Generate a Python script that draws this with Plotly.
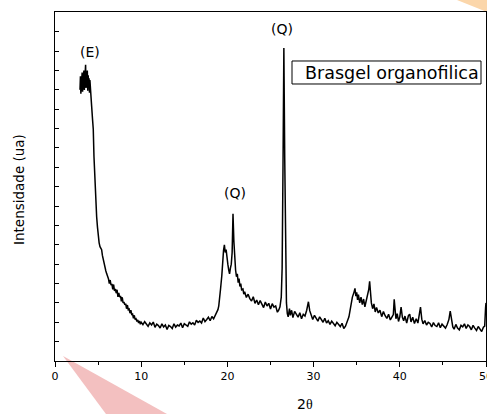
import plotly.graph_objects as go

# XRD pattern - Brasgel organofilica
two_theta = [2.90, 2.95, 3.00, 3.05, 3.10, 3.15, 3.20, 3.25, 3.30, 3.35,
             3.40, 3.45, 3.50, 3.55, 3.60, 3.65, 3.70, 3.75, 3.80, 3.85,
             3.90, 3.95, 4.00, 4.05, 4.10, 4.15, 4.20, 4.25, 4.35, 4.44,
             4.52, 4.63, 4.73, 4.83, 4.93, 5.02, 5.12, 5.22, 5.31, 5.41,
             5.5, 5.6, 5.7, 5.79, 5.9, 6.0, 6.1, 6.2, 6.3, 6.4,
             6.5, 6.6, 6.7, 6.8, 6.9, 7.0, 7.1, 7.2, 7.3, 7.4,
             7.5, 7.6, 7.7, 7.8, 7.9, 8.0, 8.1, 8.2, 8.3, 8.4,
             8.5, 8.6, 8.7, 8.8, 8.9, 9.0, 9.1, 9.2, 9.3, 9.4,
             9.5, 9.6, 9.7, 9.8, 9.9, 10.0, 10.2, 10.4, 10.6, 10.8,
             11.0, 11.2, 11.4, 11.6, 11.8, 12.0, 12.2, 12.4, 12.6, 12.8,
             13.0, 13.2, 13.4, 13.6, 13.8, 14.0, 14.2, 14.4, 14.6, 14.8,
             15.0, 15.2, 15.4, 15.6, 15.8, 16.0, 16.2, 16.4, 16.6, 16.8,
             17.0, 17.2, 17.4, 17.6, 17.8, 18.0, 18.2, 18.4, 18.6, 18.8,
             18.9, 19.0, 19.1, 19.2, 19.35, 19.45, 19.55, 19.65, 19.75, 19.85,
             19.95, 20.05, 20.15, 20.25, 20.35, 20.45, 20.55, 20.65, 20.75, 20.85,
             20.95, 21.05, 21.15, 21.25, 21.35, 21.45, 21.55, 21.65, 21.8, 21.9,
             22.0, 22.2, 22.4, 22.6, 22.8, 23.0, 23.2, 23.4, 23.6, 23.8,
             24.0, 24.2, 24.4, 24.6, 24.8, 25.0, 25.2, 25.4, 25.6, 25.8,
             25.95, 26.1, 26.25, 26.35, 26.45, 26.55, 26.65, 26.75, 26.85, 26.95,
             27.05, 27.2, 27.3, 27.45, 27.6, 27.8, 28.0, 28.2, 28.4, 28.6,
             28.8, 29.0, 29.2, 29.4, 29.55, 29.7, 29.9, 30.1, 30.3, 30.5,
             30.7, 30.9, 31.1, 31.3, 31.5, 31.7, 31.9, 32.1, 32.3, 32.5,
             32.7, 32.9, 33.1, 33.3, 33.5, 33.7, 33.9, 34.1, 34.3, 34.5,
             34.7, 34.8, 34.9, 35.0, 35.1, 35.2, 35.35, 35.5, 35.65, 35.8,
             35.95, 36.1, 36.25, 36.4, 36.5, 36.6, 36.7, 36.85, 37.0, 37.15,
             37.3, 37.5, 37.7, 37.9, 38.1, 38.3, 38.5, 38.7, 38.9, 39.1,
             39.25, 39.35, 39.45, 39.55, 39.7, 39.85, 40.0, 40.15, 40.3, 40.45,
             40.6, 40.8, 41.0, 41.15, 41.3, 41.5, 41.7, 41.9, 42.1, 42.25,
             42.4, 42.55, 42.7, 42.9, 43.1, 43.3, 43.5, 43.7, 43.9, 44.1,
             44.3, 44.5, 44.7, 44.9, 45.1, 45.3, 45.5, 45.7, 45.85, 46.0,
             46.15, 46.3, 46.5, 46.7, 46.9, 47.1, 47.3, 47.5, 47.7, 47.9,
             48.1, 48.3, 48.5, 48.7, 48.9, 49.1, 49.3, 49.5, 49.7, 49.85,
             49.95, 50.0]
intensidade = [1400, 1470, 1380, 1450, 1410, 1490, 1390, 1460, 1420, 1500,
               1400, 1480, 1430, 1530, 1410, 1470, 1440, 1500, 1395, 1475,
               1420, 1460, 1385, 1450, 1400, 1420, 1360, 1316, 1250, 1197,
               1057, 922, 830, 746, 690, 642, 610, 590, 580, 575,
               545, 520, 500, 487, 465, 450, 440, 425, 400, 418,
               392, 398, 370, 395, 362, 372, 350, 368, 331, 352,
               330, 336, 308, 329, 300, 305, 290, 296, 270, 289,
               265, 268, 247, 262, 240, 242, 220, 236, 214, 218,
               204, 212, 196, 207, 190, 200, 188, 203, 191, 179,
               197, 186, 201, 174, 190, 183, 170, 192, 176, 186,
               163, 184, 178, 168, 192, 175, 186, 181, 196, 172,
               193, 188, 179, 202, 190, 197, 186, 210, 199, 206,
               196, 222, 203, 214, 226, 208, 230, 218, 238, 250,
               265, 285, 316, 370, 440, 540, 570, 600, 560, 575,
               520, 500, 470, 450, 480, 500, 560, 760, 620, 500,
               470, 435, 450, 405, 425, 385, 400, 368, 372, 345,
               358, 328, 345, 322, 310, 332, 298, 315, 290, 312,
               294, 276, 305, 284, 298, 268, 296, 278, 284, 252,
               262, 280, 330, 480, 1000, 1616, 1050, 480, 300, 245,
               228, 270, 236, 262, 224, 256, 238, 226, 249, 218,
               241, 232, 262, 306, 260, 235, 214, 236, 222, 206,
               228, 212, 200, 221, 196, 208, 189, 206, 194, 182,
               200, 186, 178, 195, 168, 180, 200, 228, 280, 330,
               357, 375, 335, 355, 315, 343, 300, 330, 291, 320,
               280, 310, 330, 370, 412, 340, 300, 270, 295, 253,
               277, 248, 262, 229, 255, 234, 220, 241, 212, 228,
               240, 318, 260, 218, 244, 204, 228, 278, 226, 208,
               232, 196, 234, 242, 202, 226, 194, 218, 196, 230,
               278, 216, 192, 209, 186, 200, 194, 176, 198, 183,
               178, 197, 172, 190, 181, 170, 188, 215, 258, 206,
               176, 164, 189, 170, 161, 184, 176, 192, 168, 186,
               178, 161, 184, 170, 158, 178, 163, 152, 174, 180,
               275, 300]

x_ticks = [0, 10, 20, 30, 40, 50]
x_minor_ticks = [5, 15, 25, 35, 45]
peak_labels = ['(E)', '(Q)', '(Q)']
peak_x = [4.06, 20.86, 26.36]
peak_y = [1596, 870, 1715]

fig = go.Figure(data=[
    go.Scatter(x=two_theta, y=intensidade, mode='lines', line=dict(color='black', width=1.5), showlegend=False)])

for lbl, px, py in zip(peak_labels, peak_x, peak_y):
    fig.add_annotation(x=px, y=py, text=lbl, showarrow=False, font=dict(size=14, color='black'))

fig.add_annotation(xref='paper', yref='paper', x=-0.0835, y=0.49, xanchor='center', yanchor='middle',
                   text='Intensidade (ua)', textangle=-90, showarrow=False, font=dict(size=13.5, color='black'))
fig.add_annotation(xref='paper', yref='paper', x=0.58, y=-0.123, xanchor='center', yanchor='middle',
                   text="2<span style='font-family:\"Liberation Serif\"'>θ</span>",
                   showarrow=False, font=dict(size=14, color='black'))

# legend box
fig.add_shape(type='rect', xref='paper', yref='paper', x0=0.5499, x1=0.9884, y0=0.7937, y1=0.8596,
              line=dict(color='black', width=1), fillcolor='white')
fig.add_annotation(xref='paper', yref='paper', x=0.5754, y=0.8266, xanchor='left', yanchor='middle',
                   text='Brasgel organofilica', showarrow=False, font=dict(size=17.5, color='black'))

# watermark pieces
fig.add_shape(type='path', xref='paper', yref='paper', layer='below',
              path='M 0.0186 0.0143 L 0.1183 -0.1519 L 0.2599 -0.1519 Z',
              line=dict(width=0), fillcolor='rgb(243,192,192)')
fig.add_shape(type='path', xref='paper', yref='paper', layer='below',
              path='M 0.9327 1.0344 L 1.0023 1.0344 L 1.0023 1.0 Z',
              line=dict(width=0), fillcolor='rgb(251,214,170)')

fig.update_layout(width=487, height=414, margin=dict(l=55, r=1, t=12, b=53),
                  paper_bgcolor='white', plot_bgcolor='white',
                  font=dict(family='DejaVu Sans', size=11, color='black'))
fig.update_xaxes(range=[0, 50], tickvals=x_ticks, ticks='outside', ticklen=5, tickcolor='black',
                 minor=dict(tickvals=x_minor_ticks, ticks='outside', ticklen=3, tickcolor='black'),
                 showline=True, linecolor='black', linewidth=1, mirror=True, showgrid=False, zeroline=False,
                 automargin=False, ticklabeloverflow='allow', tickfont=dict(size=11))
fig.update_yaxes(range=[0, 1802], dtick=100, ticks='inside', ticklen=4, tickcolor='black', showticklabels=False,
                 showline=True, linecolor='black', linewidth=1, mirror=True, showgrid=False, zeroline=False,
                 automargin=False)
fig.write_html("out.html", config={'displayModeBar': False},
               post_script="document.body.style.margin='0';document.body.style.overflow='hidden';")
